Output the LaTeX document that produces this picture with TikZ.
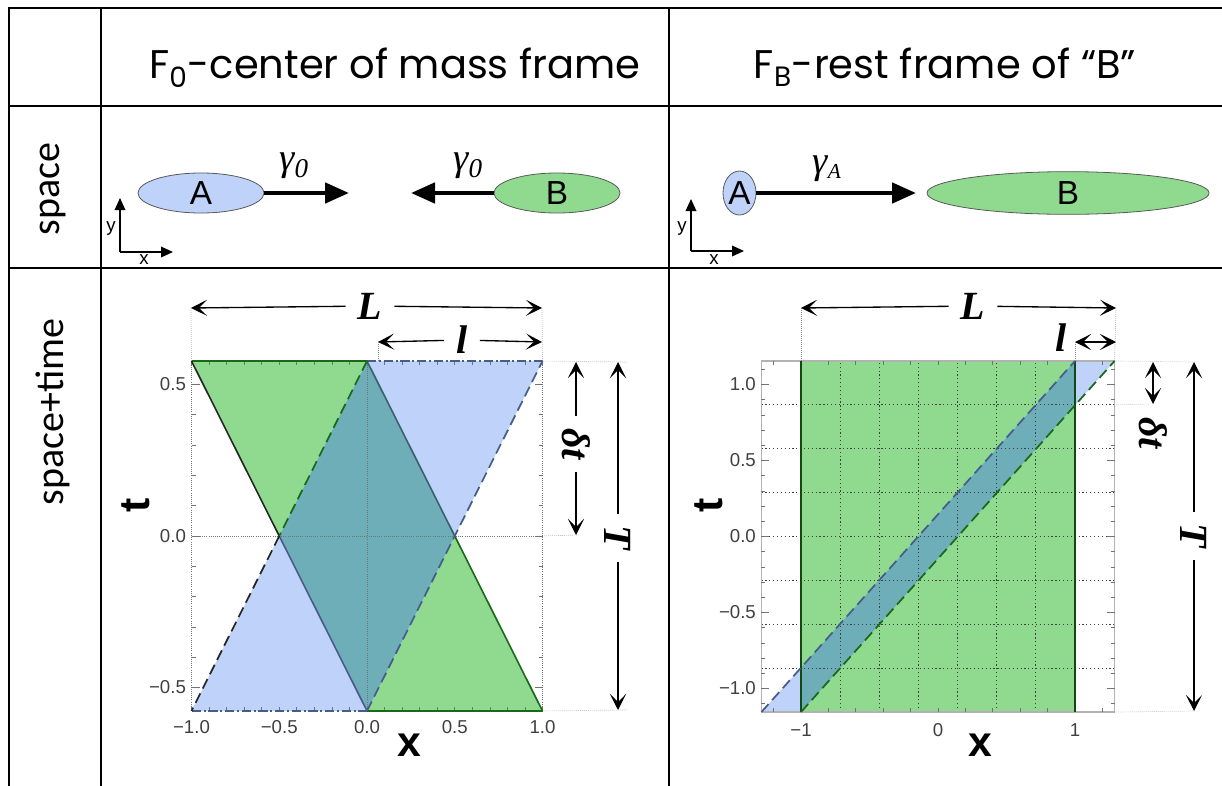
\documentclass[tikz,border=0pt]{standalone}
\usepackage{fontspec}
\setmainfont{Liberation Serif}
\newfontfamily\headfont{Poppins}
\newfontfamily\rowfont{Carlito}
\newfontfamily\plotfont{Liberation Sans}
\usetikzlibrary{arrows.meta, shapes.geometric}

\definecolor{Ablue}{RGB}{191,210,249}
\definecolor{Bgreen}{RGB}{143,218,143}
\definecolor{overlap}{RGB}{110,174,184}
\definecolor{greenedge}{RGB}{25,105,25}
\definecolor{blueedge}{RGB}{72,92,140}

\tikzset{
  rule/.style={line width=1.6pt},
  rowhead/.style={font=\rowfont\fontsize{30}{36}\selectfont, rotate=90},
  colhead/.style={font=\headfont\fontsize{30}{36}\selectfont, anchor=base},
  body/.style={ellipse, draw=black!65, line width=0.6pt, inner sep=0pt,
    font=\plotfont\fontsize{25}{28}\selectfont},
  motion/.style={line width=3.5pt, -{Triangle[length=18pt,width=15pt]}},
  speed/.style={font=\fontsize{29}{32}\selectfont\itshape},
  miniaxis/.style={line width=1pt, -{Triangle[length=9pt,width=8pt]}},
  minilabel/.style={font=\plotfont\fontsize{14}{16}\selectfont, inner sep=1pt},
  gridline/.style={densely dotted, black!55, line width=0.6pt},
  darkgrid/.style={dotted, black!75, line width=0.9pt},
  tick/.style={black!55, line width=0.5pt},
  edge/.style={line width=1.2pt},
  dashedge/.style={line width=1.3pt, dash pattern=on 8pt off 4pt},
  dashdotedge/.style={line width=1pt, dash pattern=on 7pt off 2pt on 1.5pt off 2pt},
  ticklabel/.style={font=\plotfont\fontsize{14}{16}\selectfont, text=black!75, inner sep=1pt},
  axislabel/.style={font=\plotfont\fontsize{32}{34}\selectfont\bfseries},
  dim/.style={line width=1pt},
  dimlabel/.style={font=\fontsize{30}{32}\selectfont\bfseries\itshape, inner sep=9pt},
  extline/.style={densely dotted, black!45, line width=0.5pt},
  >={Stealth[length=12pt,width=12pt,inset=6pt]}
}

\begin{document}
\begin{tikzpicture}[x=0.75pt, y=-0.75pt]

    \useasboundingbox (0,0) rectangle (1222,786);

    % 1. Table rules
    \draw[rule] (9,786) -- (9,8) -- (1222,8);
    \draw[rule] (9,106) -- (1222,106);
    \draw[rule] (9,268) -- (1222,268);
    \draw[rule] (101,8) -- (101,786);
    \draw[rule] (669,8) -- (669,786);

    % Column and row headings
    \node[colhead] (hcm) at (395,78) {F\textsubscript{0}-center of mass frame};
    \node[colhead] (hrest) at (945,78) {F\textsubscript{B}-rest frame of “B”};
    \node[rowhead] (rspace) at (53,189) {space};
    \node[rowhead] (rtime) at (53,412) {space+time};

    % 2. Space row, center of mass frame
    \node[body, fill=Ablue, minimum width=94.5pt, minimum height=30pt] (A0) at (201,193) {A};
    \node[body, fill=Bgreen, minimum width=94.5pt, minimum height=30pt] (B0) at (557,193) {B};
    \coordinate (A0tip) at (349,193);
    \coordinate (B0tip) at (411,193);
    \draw[motion] (A0.east) -- (A0tip);
    \draw[motion] (B0.west) -- (B0tip);
    \node[speed] (vA0) at (294,166) {γ\textsubscript{0}};
    \node[speed] (vB0) at (468,166) {γ\textsubscript{0}};

    \coordinate (o0) at (120,252);
    \coordinate (o0y) at (120,198);
    \coordinate (o0x) at (173,252);
    \draw[miniaxis] (o0) -- (o0y);
    \draw[miniaxis] (o0) -- (o0x);
    \node[minilabel] (o0ylab) at (111,229) {y};
    \node[minilabel] (o0xlab) at (144,260) {x};

    % Space row, rest frame of B
    \node[body, fill=Ablue, minimum width=24.75pt, minimum height=33pt] (A1) at (739.5,193) {A};
    \node[body, fill=Bgreen, minimum width=211.5pt, minimum height=32pt] (B1) at (1068,193) {B};
    \coordinate (A1tip) at (916,193);
    \draw[motion] (A1.east) -- (A1tip);
    \node[speed] (vA1) at (827,169) {γ\textsubscript{\fontsize{16}{16}\selectfont A}};

    \coordinate (o1) at (691,251);
    \coordinate (o1y) at (691,199);
    \coordinate (o1x) at (744,251);
    \draw[miniaxis] (o1) -- (o1y);
    \draw[miniaxis] (o1) -- (o1x);
    \node[minilabel] (o1ylab) at (682,229) {y};
    \node[minilabel] (o1xlab) at (714,260) {x};

    % 3. Space+time plot, center of mass frame
    \begin{scope}[shift={(367,536)}, x=131.625pt, y=227.25pt]
        \def\T{0.57735}
        \fill[Bgreen] (-1,\T) -- (0,\T) -- (1,-\T) -- (0,-\T) -- cycle;
        \fill[Ablue] (-1,-\T) -- (0,-\T) -- (1,\T) -- (0,\T) -- cycle;
        \fill[overlap] (-0.5,0) -- (0,\T) -- (0.5,0) -- (0,-\T) -- cycle;

        \draw[gridline] (-1,-\T) -- (-1,\T) (0,-\T) -- (0,\T) (1,-\T) -- (1,\T) (-1,0) -- (1,0);
        \foreach \t in {-0.5,-0.4,...,0.55} {
            \draw[tick] (-1,\t) -- ++(3pt,0);
            \draw[tick] (1,\t) -- ++(-3pt,0);
        }
        \foreach \t in {-0.5,0,0.5} {
            \draw[tick] (-1,\t) -- ++(6pt,0);
            \draw[tick] (1,\t) -- ++(-6pt,0);
        }
        \foreach \x in {-1,-0.9,...,1.05} {
            \draw[tick] (\x,-\T) -- ++(0,3pt);
            \draw[tick] (\x,\T) -- ++(0,-3pt);
        }

        % world lines of the two bodies
        \draw[edge, greenedge] (-1,\T) -- (0,\T);
        \draw[edge, greenedge] (0,-\T) -- (1,-\T);
        \draw[dashdotedge, blueedge] (0,\T) -- (1,\T);
        \draw[dashdotedge, blueedge] (-1,-\T) -- (0,-\T);
        \draw[edge, black!85] (-1,\T) -- (-0.5,0);
        \draw[edge, blueedge] (-0.5,0) -- (0,-\T);
        \draw[edge, blueedge!70!greenedge] (0,\T) -- (0.5,0);
        \draw[edge, greenedge] (0.5,0) -- (1,-\T);
        \draw[dashedge, greenedge] (0,\T) -- (-0.5,0);
        \draw[dashedge, black!85] (-0.5,0) -- (-1,-\T);
        \draw[dashedge, blueedge] (0,-\T) -- (1,\T);

        \coordinate (P0tl) at (-1,\T);
        \coordinate (P0tr) at (1,\T);
        \coordinate (P0mr) at (1,0);
        \coordinate (P0br) at (1,-\T);

        \foreach \t/\lab [count=\i] in {0.5/0.5, 0/0.0, -0.5/−0.5} {
            \node[ticklabel, anchor=east] (t0\i) at ([xshift=-3pt]-1,\t) {\lab};
        }
        \foreach \x/\lab [count=\i] in {-1/−1.0, -0.5/−0.5, 0/0.0, 0.5/0.5, 1/1.0} {
            \node[ticklabel] (x0\i) at ([yshift=-12pt]\x,-\T) {\lab};
        }
    \end{scope}
    \node[axislabel, rotate=90] (tax0) at (136,505) {t};
    \node[axislabel] (xax0) at (409,745) {x};

    % Dimensions, center of mass frame
    \coordinate (L0a) at (191,308);
    \coordinate (L0b) at (542,308);
    \node[dimlabel] (L0) at (370,306) {L};
    \draw[dim, ->] (L0) -- (L0a);
    \draw[dim, ->] (L0) -- (L0b);
    \draw[extline] (L0a) -- (P0tl);
    \draw[extline] (L0b) -- (P0tr);

    \coordinate (l0a) at (378,342);
    \coordinate (l0b) at (542,342);
    \node[dimlabel] (l0) at (462,340) {l};
    \draw[dim, ->] (l0) -- (l0a);
    \draw[dim, ->] (l0) -- (l0b);
    \draw[extline] (l0a) -- (l0a |- P0tl);

    \coordinate (d0a) at (576,362);
    \coordinate (d0b) at (576,535);
    \node[dimlabel, rotate=-90] (d0) at (576,444) {δt};
    \draw[dim, ->] (d0) -- (d0a);
    \draw[dim, ->] (d0) -- (d0b);

    \coordinate (T0a) at (618,362);
    \coordinate (T0b) at (618,710);
    \node[dimlabel, rotate=-90] (T0) at (618,538) {T};
    \draw[dim, ->] (T0) -- (T0a);
    \draw[dim, ->] (T0) -- (T0b);
    \draw[extline] (P0tr) -- ([xshift=7pt]T0a);
    \draw[extline] (P0br) -- ([xshift=7pt]T0b);
    \draw[extline] (P0mr) -- ([xshift=2pt]d0b);

    % 4. Space+time plot, rest frame of B
    \begin{scope}[shift={(938,536.5)}, x=102.75pt, y=114pt]
        \def\T{1.1547}
        \def\W{1.2887}
        \fill[Ablue] (-\W,-\T) -- (-1,-\T) -- (\W,\T) -- (1,\T) -- cycle;
        \fill[Bgreen] (-1,-\T) rectangle (1,\T);
        \begin{scope}
            \clip (-1,-\T) rectangle (1,\T);
            \fill[overlap] (-\W,-\T) -- (-1,-\T) -- (\W,\T) -- (1,\T) -- cycle;
        \end{scope}

        \foreach \k in {-3,...,3} {
            \draw[darkgrid] (-\W,\k*\T/4) -- (\W,\k*\T/4);
        }
        \foreach \x in {-5,-3,-1,1,3,5} {
            \draw[darkgrid] (\x/7,-\T) -- (\x/7,\T);
        }
        \draw[black!30, line width=0.8pt] (-\W,-\T) rectangle (\W,\T);
        \foreach \t in {-1.1,-1.0,...,1.15} {
            \draw[tick] (-\W,\t) -- ++(3pt,0);
            \draw[tick] (\W,\t) -- ++(-3pt,0);
        }
        \foreach \t in {-1,-0.5,0,0.5,1} {
            \draw[tick] (-\W,\t) -- ++(6pt,0);
            \draw[tick] (\W,\t) -- ++(-6pt,0);
        }
        \foreach \x in {-1.2,-1.0,...,1.25} {
            \draw[tick] (\x,-\T) -- ++(0,3pt);
            \draw[tick] (\x,\T) -- ++(0,-3pt);
        }

        % world lines of the two bodies
        \draw[edge, greenedge!70!black] (-1,-\T) -- (-1,\T);
        \draw[edge, greenedge!70!black] (1,-\T) -- (1,\T);
        \draw[dashedge, blueedge] (-\W,-\T) -- (1,\T);
        \draw[dashedge, greenedge] (-1,-\T) -- (\W,\T);

        \coordinate (P1tl) at (-1,\T);
        \coordinate (P1tr) at (\W,\T);
        \coordinate (P1ta) at (1,\T);
        \coordinate (P1dr) at (\W,3*\T/4);
        \coordinate (P1br) at (\W,-\T);

        \foreach \t/\lab [count=\i] in {1/1.0, 0.5/0.5, 0/0.0, -0.5/−0.5, -1/−1.0} {
            \node[ticklabel, anchor=east] (t1\i) at ([xshift=-3pt]-\W,\t) {\lab};
        }
        \foreach \x/\lab [count=\i] in {-1/−1, 0/0, 1/1} {
            \node[ticklabel] (x1\i) at ([yshift=-13.5pt]\x,-\T) {\lab};
        }
    \end{scope}
    \node[axislabel, rotate=90] (tax1) at (709,505) {t};
    \node[axislabel] (xax1) at (980,745) {x};

    % Dimensions, rest frame of B
    \coordinate (L1a) at (801,308);
    \coordinate (L1b) at (1116,308);
    \node[dimlabel] (L1) at (973,306) {L};
    \draw[dim, ->] (L1) -- (L1a);
    \draw[dim, ->] (L1) -- (L1b);
    \draw[extline] (L1a) -- (P1tl);
    \draw[extline] (L1b) -- (P1tr);

    \coordinate (l1a) at (1075,342);
    \coordinate (l1b) at (1116,342);
    \node[dimlabel, inner sep=2pt] (l1) at (1061,338) {l};
    \draw[dim, <->] (l1a) -- (l1b);
    \draw[extline] (l1a) -- (P1ta);

    \coordinate (d1a) at (1153,362);
    \coordinate (d1b) at (1153,404);
    \node[dimlabel, rotate=-90, inner sep=2pt] (d1) at (1153,433) {δt};
    \draw[dim, <->] (d1a) -- (d1b);

    \coordinate (T1a) at (1194,362);
    \coordinate (T1b) at (1194,711);
    \node[dimlabel, rotate=-90] (T1) at (1194,536) {T};
    \draw[dim, ->] (T1) -- (T1a);
    \draw[dim, ->] (T1) -- (T1b);
    \draw[extline] (P1tr) -- ([xshift=2pt]T1a);
    \draw[extline] (P1br) -- ([xshift=2pt]T1b);
    \draw[extline] (P1dr) -- ([xshift=-2pt]d1b);

\end{tikzpicture}
\end{document}
